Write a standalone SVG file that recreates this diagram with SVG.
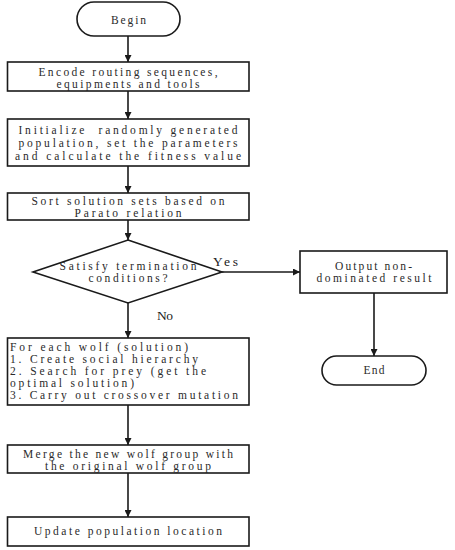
<svg xmlns="http://www.w3.org/2000/svg" width="455" height="550" viewBox="0 0 455 550">
<style>
.box{fill:#fff;stroke:#1a1a1a;stroke-width:1.6}
.t{font-family:"Liberation Serif","DejaVu Serif",serif;font-size:11.5px;fill:#2a2a2a;text-anchor:middle}
.l{text-anchor:start}
.lbl{font-family:"Liberation Serif","DejaVu Serif",serif;font-size:13.5px;fill:#222}
.c{stroke:#1a1a1a;stroke-width:1.6;fill:none;marker-end:url(#ah)}
</style>
<defs>
<marker id="ah" viewBox="0 0 10 10" refX="10" refY="5" markerWidth="7" markerHeight="7" markerUnits="userSpaceOnUse" orient="auto">
<path d="M0,0 L10,5 L0,10 z" fill="#1a1a1a"/>
</marker>
</defs>
<rect width="455" height="550" fill="#fff"/>
<g id="connectors">
<line class="c" x1="128" y1="36" x2="128" y2="62"/>
<line class="c" x1="128" y1="91" x2="128" y2="119"/>
<line class="c" x1="128" y1="166" x2="128" y2="193"/>
<line class="c" x1="128" y1="220" x2="128" y2="240"/>
<line class="c" x1="128" y1="303" x2="128" y2="338"/>
<line class="c" x1="128" y1="405" x2="128" y2="445"/>
<line class="c" x1="128" y1="473" x2="128" y2="517"/>
<line class="c" x1="222" y1="272" x2="300" y2="272"/>
<line class="c" x1="374" y1="293" x2="374" y2="356"/>
<text class="lbl" x="213" y="266" textLength="25" lengthAdjust="spacing">Yes</text>
<text class="lbl" x="157" y="320" textLength="16" lengthAdjust="spacing">No</text>
</g>
<g id="begin">
<rect class="box" x="77" y="2" width="103" height="34" rx="17"/>
<text class="t" x="128.5" y="24" textLength="35" lengthAdjust="spacing">Begin</text>
</g>
<g id="encode">
<rect class="box" x="7.5" y="62" width="241.5" height="29"/>
<text class="t" x="128" y="76" textLength="179" lengthAdjust="spacing">Encode routing sequences,</text>
<text class="t" x="128" y="88" textLength="143" lengthAdjust="spacing">equipments and tools</text>
</g>
<g id="initialize">
<rect class="box" x="7.5" y="119" width="241.5" height="47"/>
<text class="t" x="128" y="134" textLength="219" lengthAdjust="spacing" xml:space="preserve">Initialize  randomly generated</text>
<text class="t" x="128" y="147" textLength="219" lengthAdjust="spacing">population, set the parameters</text>
<text class="t" x="128" y="160" textLength="226" lengthAdjust="spacing">and calculate the fitness value</text>
</g>
<g id="sort">
<rect class="box" x="7.5" y="193" width="241.5" height="27"/>
<text class="t" x="128" y="205" textLength="193" lengthAdjust="spacing">Sort solution sets based on</text>
<text class="t" x="128" y="217" textLength="107" lengthAdjust="spacing">Parato relation</text>
</g>
<g id="decision">
<polygon class="box" points="128,240 222,272 128,303 33,272"/>
<text class="t" x="128" y="270" textLength="137" lengthAdjust="spacing">Satisfy termination</text>
<text class="t" x="128" y="282" textLength="79" lengthAdjust="spacing">conditions?</text>
</g>
<g id="output">
<rect class="box" x="300" y="251" width="147" height="42"/>
<text class="t" x="373.5" y="270" textLength="77" lengthAdjust="spacing">Output non-</text>
<text class="t" x="374" y="282" textLength="115" lengthAdjust="spacing">dominated result</text>
</g>
<g id="end">
<rect class="box" x="322" y="356" width="104" height="29" rx="14.5"/>
<text class="t" x="374" y="374" textLength="21" lengthAdjust="spacing">End</text>
</g>
<g id="foreach">
<rect class="box" x="7.5" y="338" width="241.5" height="67"/>
<text class="t l" x="10" y="351" textLength="178" lengthAdjust="spacing">For each wolf (solution)</text>
<text class="t l" x="10" y="363" textLength="188" lengthAdjust="spacing">1. Create social hierarchy</text>
<text class="t l" x="10" y="375" textLength="196" lengthAdjust="spacing">2. Search for prey (get the</text>
<text class="t l" x="10" y="387" textLength="124" lengthAdjust="spacing">optimal solution)</text>
<text class="t l" x="10" y="399" textLength="228" lengthAdjust="spacing">3. Carry out crossover mutation</text>
</g>
<g id="merge">
<rect class="box" x="7.5" y="445" width="241.5" height="28"/>
<text class="t" x="128" y="458" textLength="210" lengthAdjust="spacing">Merge the new wolf group with</text>
<text class="t" x="128" y="470" textLength="166" lengthAdjust="spacing">the original wolf group</text>
</g>
<g id="update">
<rect class="box" x="7.5" y="517" width="241.5" height="29"/>
<text class="t" x="128" y="535" textLength="188" lengthAdjust="spacing">Update population location</text>
</g>
</svg>
